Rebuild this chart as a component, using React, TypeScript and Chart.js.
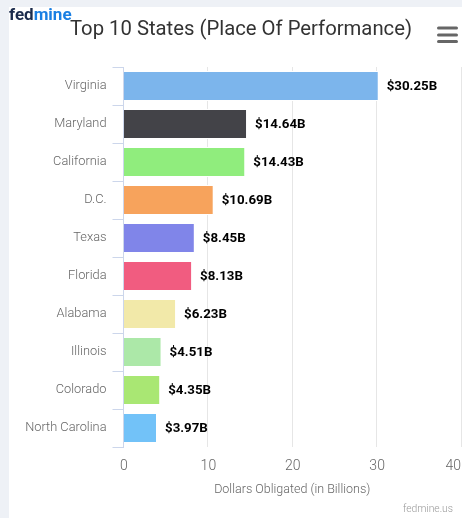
import React, { useEffect, useRef } from "react";
import { Chart, registerables } from "chart.js";

Chart.register(...registerables);

const states = ["Virginia", "Maryland", "California", "D.C.", "Texas", "Florida", "Alabama", "Illinois", "Colorado", "North Carolina"];
const values = [30.25, 14.64, 14.43, 10.69, 8.45, 8.13, 6.23, 4.51, 4.35, 3.97];
const labels = ["$30.25B", "$14.64B", "$14.43B", "$10.69B", "$8.45B", "$8.13B", "$6.23B", "$4.51B", "$4.35B", "$3.97B"];
const colors = ["#7cb5ec", "#434348", "#90ed7d", "#f7a35c", "#8085e9", "#f15c80", "#f2e9a9", "#ace8a8", "#a9e773", "#72c2f8"];
const xTicks = [0, 10, 20, 30, 40];
const titleText = "Top 10 States (Place Of Performance)";
const axisTitle = "Dollars Obligated (in Billions)";
const creditText = "fedmine.us";

const W = 462;
const H = 518;

const bgPlugin = {
  id: "bgPlugin",
  beforeDraw(chart: any) {
    const ctx = chart.ctx;
    ctx.save();
    ctx.fillStyle = "#eef1f6";
    ctx.fillRect(0, 0, W, H);
    ctx.fillStyle = "#ffffff";
    ctx.fillRect(9, 7, W - 9, H - 7);
    ctx.restore();
  },
};

const labelPlugin = {
  id: "labelPlugin",
  afterDatasetsDraw(chart: any) {
    const ctx = chart.ctx;
    const meta = chart.getDatasetMeta(0);
    ctx.save();
    ctx.font = "bold 13.3px Roboto";
    ctx.fillStyle = "#000000";
    ctx.textAlign = "left";
    ctx.textBaseline = "middle";
    meta.data.forEach((el: any, i: number) => {
      ctx.fillText(labels[i], el.x + 8, el.y + 1);
    });
    ctx.restore();
  },
};

const decoPlugin = {
  id: "decoPlugin",
  afterDraw(chart: any) {
    const ctx = chart.ctx;
    ctx.save();
    // logo
    ctx.font = "bold 17px Roboto";
    ctx.textBaseline = "alphabetic";
    ctx.textAlign = "left";
    ctx.fillStyle = "#1c2c4c";
    ctx.fillText("fed", 9, 20);
    const w1 = ctx.measureText("fed").width;
    ctx.fillStyle = "#1a7fe3";
    ctx.fillText("mine", 9 + w1, 20);
    // title
    ctx.font = "20.3px Roboto";
    ctx.fillStyle = "#333333";
    ctx.textAlign = "center";
    ctx.fillText(titleText, 241, 35);
    // hamburger
    ctx.strokeStyle = "#666666";
    ctx.lineWidth = 3;
    ctx.lineCap = "round";
    [28, 35, 41.5].forEach((y) => {
      ctx.beginPath();
      ctx.moveTo(438.5, y);
      ctx.lineTo(456.5, y);
      ctx.stroke();
    });
    // x tick labels from the scale
    const xs = chart.scales.x;
    ctx.font = "300 14px Roboto";
    ctx.fillStyle = "#666666";
    ctx.textBaseline = "middle";
    ctx.textAlign = "left";
    xs.ticks.forEach((t: any) => {
      const txt = String(t.value);
      const tw = ctx.measureText(txt).width;
      let x = xs.getPixelForValue(t.value) + 0.5 - tw / 2;
      if (x + tw > chart.chartArea.right) x = chart.chartArea.right - tw;
      ctx.fillText(txt, x, 466);
    });
    // credits
    ctx.font = "300 10.3px Roboto";
    ctx.fillStyle = "#999999";
    ctx.textAlign = "right";
    ctx.fillText(creditText, 453, 509);
    ctx.restore();
  },
};

export default function App() {
  const ref = useRef<HTMLCanvasElement>(null);
  useEffect(() => {
    if (!ref.current) return;
    const chart = new Chart(ref.current, {
      type: "bar",
      data: {
        labels: states,
        datasets: [
          {
            data: values,
            backgroundColor: colors,
            borderColor: "#ffffff",
            borderWidth: 1,
            categoryPercentage: 1,
            barPercentage: 0.79,
          },
        ],
      },
      options: {
        indexAxis: "y",
        responsive: false,
        animation: false,
        devicePixelRatio: 1,
        layout: { padding: { left: 9, top: 67, right: 1, bottom: 0 } },
        plugins: { legend: { display: false }, tooltip: { enabled: false }, title: { display: false } },
        scales: {
          x: {
            min: 0,
            max: 40,
            ticks: { display: false, stepSize: 10 },
            grid: { color: "#e6e6e6", drawTicks: false },
            border: { display: false },
            title: {
              display: true,
              text: axisTitle,
              color: "#666666",
              font: { family: "Roboto", size: 12.5, weight: "300" },
              padding: { top: 0, bottom: 21 },
            },
            afterFit: (s: any) => {
              s.height = 71;
            },
          },
          y: {
            ticks: { color: "#666666", font: { family: "Roboto", size: 12.8, weight: "300" }, padding: 6 },
            grid: { drawOnChartArea: false, drawTicks: true, tickLength: 11, color: "#ccd6eb", offset: true },
            border: { display: true, color: "#ccd6eb", width: 1 },
            afterFit: (s: any) => {
              s.width = 114.5;
            },
          },
        },
      },
      plugins: [bgPlugin, labelPlugin, decoPlugin],
    } as any);
    return () => chart.destroy();
  }, []);
  return (
    <div style={{ position: "fixed", left: 0, top: 0, width: W, height: H }}>
      <canvas ref={ref} width={W} height={H} style={{ display: "block" }} />
    </div>
  );
}
